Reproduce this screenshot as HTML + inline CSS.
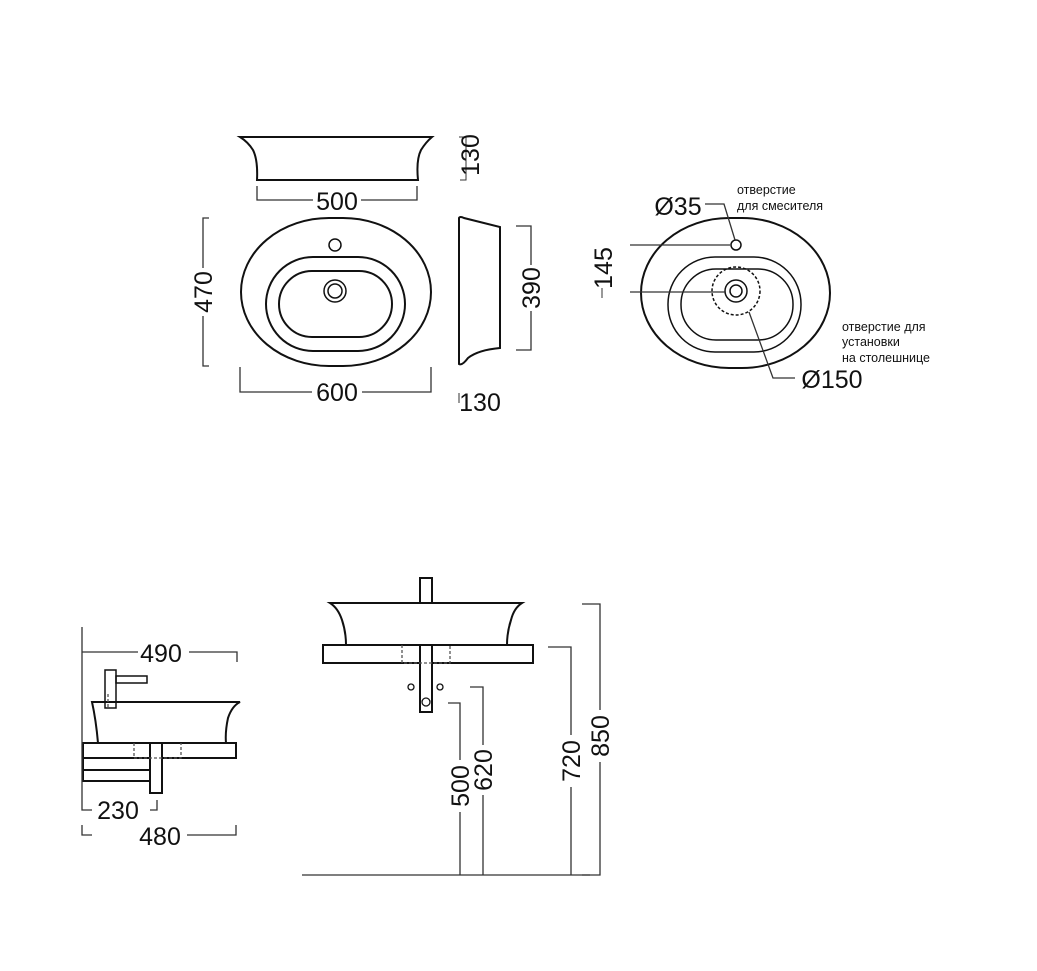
<!DOCTYPE html>
<html><head><meta charset="utf-8"><style>
html,body{margin:0;padding:0;background:#fff;}
svg{display:block;}
text{font-family:"Liberation Sans",Arial,sans-serif;fill:#111;}
.d{font-size:25px;}
.s{font-size:12.5px;}
</style></head><body>
<svg width="1037" height="971" viewBox="0 0 1037 971" xmlns="http://www.w3.org/2000/svg">
<g fill="none" stroke="#111" stroke-width="2">
<!-- top side view -->
<path d="M240,137 L432,137 Q426,142 421,150 Q416,160 418,180 L257,180 Q258,160 253,150 Q248,142 240,137 Z"/>
<!-- top view -->
<rect x="241" y="218" width="190" height="148" rx="88" ry="74"/>
<rect x="266" y="257" width="139" height="94" rx="47" ry="47"/>
<rect x="279" y="271" width="113" height="66" rx="33" ry="33"/>
<circle cx="335" cy="291" r="11" stroke-width="1.5"/>
<circle cx="335" cy="291" r="7" stroke-width="1.5"/>
<circle cx="335" cy="245" r="6" stroke-width="1.5"/>
<!-- side view right -->
<path d="M459,218 Q460,216 464,218 L500,227 L500,348 Q478,350 468,358 Q462,366 459,364 Z"/>
<!-- right top view -->
<rect x="641" y="218" width="189" height="150" rx="88" ry="75"/>
<rect x="668" y="257" width="133" height="95" rx="47" ry="47" stroke-width="1.5"/>
<rect x="681" y="269" width="112" height="71" rx="35" ry="35" stroke-width="1.5"/>
<circle cx="736" cy="291" r="11" stroke-width="1.5"/>
<circle cx="736" cy="291" r="6" stroke-width="1.5"/>
<circle cx="736" cy="245" r="5" stroke-width="1.5"/>
<circle cx="736" cy="291" r="24" stroke-width="1.5" stroke-dasharray="3,2"/>
<!-- bottom left -->
<path d="M92,702 L240,702 Q232,706 228,718 Q225,732 226,743 L98,743 Q96,720 92,702 Z"/>
<rect x="105" y="670" width="11" height="38" stroke-width="1.5"/>
<rect x="116" y="676" width="31" height="7" stroke-width="1.5"/>
<rect x="83" y="743" width="153" height="15"/>
<rect x="83" y="758" width="67" height="12"/>
<rect x="83" y="770" width="67" height="11"/>
<rect x="150" y="743" width="12" height="50" fill="#fff"/>
<!-- bottom middle -->
<path d="M330,603 L522,603 Q514,608 511,620 Q507,632 507,645 L346,645 Q346,632 342,620 Q338,608 330,603 Z"/>
<rect x="420" y="578" width="12" height="25"/>
<rect x="323" y="645" width="210" height="18"/>
<rect x="420" y="645" width="12" height="67" fill="#fff"/>
<circle cx="411" cy="687" r="3" stroke-width="1.3"/>
<circle cx="440" cy="687" r="3" stroke-width="1.3"/>
<circle cx="426" cy="702" r="4" stroke-width="1.3"/>
</g>
<!-- dashed -->
<g fill="none" stroke="#555" stroke-width="1.3" stroke-dasharray="3,2">
<path d="M134,743 V758 H181 V743"/>
<path d="M108,694 V708"/>
<path d="M402,645 V663 H450 V645"/>
</g>
<!-- dimension lines -->
<g fill="none" stroke="#333" stroke-width="1.3">
<path d="M257,186 V200 H313 M361,200 H417 V186"/>
<path d="M209,218 H203 V268 M203,316 V366 H209"/>
<path d="M240,367 V392 H312 M362,392 H431 V367"/>
<path d="M459,137 H466 V180 H460" stroke-width="1"/>
<path d="M516,226 H531 V265 M531,311 V350 H516"/>
<path d="M459,393 V403" stroke-width="1"/>
<path d="M630,245 H730 M630,292 H725"/>
<path d="M602,288 V298" stroke-width="1"/>
<path d="M705,204 H724 L735,240"/>
<path d="M749,312 L773,378 H795"/>
<path d="M82,627 V810 H92 M82,652 H138 M189,652 H237 V662"/>
<path d="M150,810 H157 V800"/>
<path d="M82,825 V835 H92 M187,835 H236 V825"/>
<path d="M302,875 H590"/>
<path d="M448,703 H460 V760 M460,812 V875"/>
<path d="M470,687 H483 V745 M483,795 V875"/>
<path d="M548,647 H571 V735 M571,787 V875"/>
<path d="M582,604 H600 V710 M600,762 V875 H582"/>
</g>
<!-- texts -->
<g class="d">
<text x="337" y="210" text-anchor="middle">500</text>
<text x="337" y="401" text-anchor="middle">600</text>
<text x="480" y="411" text-anchor="middle">130</text>
<text transform="translate(212,292) rotate(-90)" text-anchor="middle">470</text>
<text transform="translate(479,155) rotate(-90)" text-anchor="middle">130</text>
<text transform="translate(540,288) rotate(-90)" text-anchor="middle">390</text>
<text transform="translate(612,268) rotate(-90)" text-anchor="middle">145</text>
<text x="678" y="215" text-anchor="middle">Ø35</text>
<text x="832" y="388" text-anchor="middle">Ø150</text>
<text x="161" y="662" text-anchor="middle">490</text>
<text x="118" y="819" text-anchor="middle">230</text>
<text x="160" y="845" text-anchor="middle">480</text>
<text transform="translate(469,786) rotate(-90)" text-anchor="middle">500</text>
<text transform="translate(492,770) rotate(-90)" text-anchor="middle">620</text>
<text transform="translate(580,761) rotate(-90)" text-anchor="middle">720</text>
<text transform="translate(609,736) rotate(-90)" text-anchor="middle">850</text>
</g>
<g class="s">
<text x="737" y="194">отверстие</text>
<text x="737" y="210">для смесителя</text>
<text x="842" y="331">отверстие для</text>
<text x="842" y="346">установки</text>
<text x="842" y="362">на столешнице</text>
</g>
</svg>
</body></html>
